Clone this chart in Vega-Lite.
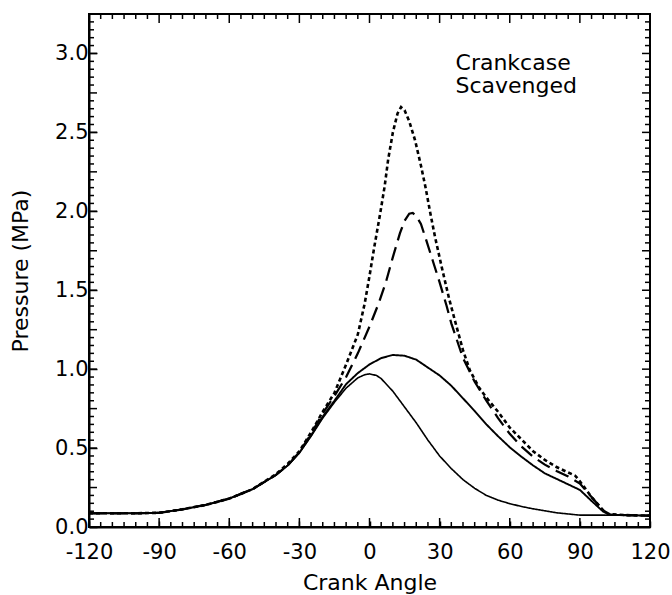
{
  "$schema": "https://vega.github.io/schema/vega-lite/v6.json",
  "width": 561,
  "height": 513,
  "autosize": {"type": "none"},
  "padding": {"left": 89, "top": 14, "right": 22, "bottom": 68},
  "background": "white",
  "config": {
    "view": {"stroke": "black", "strokeWidth": 2},
    "axis": {
      "labelFont": "DejaVu Sans", "titleFont": "DejaVu Sans",
      "labelFontSize": 21, "titleFontSize": 22, "titleFontWeight": "normal",
      "labelColor": "black", "titleColor": "black",
      "domainColor": "black", "domainWidth": 2, "tickColor": "black", "tickWidth": 1.5,
      "grid": false, "labelOverlap": false, "labelBound": false, "labelFlush": false
    },
    "tick": {"opacity": 1, "color": "black", "thickness": 1.5}
  },
  "datasets": {
    "xmaj": [{"v":-90},{"v":-60},{"v":-30},{"v":0},{"v":30},{"v":60},{"v":90}],
    "xmin": [{"v":-115},{"v":-110},{"v":-105},{"v":-100},{"v":-95},{"v":-85},{"v":-80},{"v":-75},{"v":-70},{"v":-65},{"v":-55},{"v":-50},{"v":-45},{"v":-40},{"v":-35},{"v":-25},{"v":-20},{"v":-15},{"v":-10},{"v":-5},{"v":5},{"v":10},{"v":15},{"v":20},{"v":25},{"v":35},{"v":40},{"v":45},{"v":50},{"v":55},{"v":65},{"v":70},{"v":75},{"v":80},{"v":85},{"v":95},{"v":100},{"v":105},{"v":110},{"v":115}],
    "ymaj": [{"v":0.25},{"v":0.5},{"v":0.75},{"v":1},{"v":1.25},{"v":1.5},{"v":1.75},{"v":2},{"v":2.25},{"v":2.5},{"v":2.75},{"v":3}],
    "ymin": [{"v":0.05},{"v":0.1},{"v":0.15},{"v":0.2},{"v":0.3},{"v":0.35},{"v":0.4},{"v":0.45},{"v":0.55},{"v":0.6},{"v":0.65},{"v":0.7},{"v":0.8},{"v":0.85},{"v":0.9},{"v":0.95},{"v":1.05},{"v":1.1},{"v":1.15},{"v":1.2},{"v":1.3},{"v":1.35},{"v":1.4},{"v":1.45},{"v":1.55},{"v":1.6},{"v":1.65},{"v":1.7},{"v":1.8},{"v":1.85},{"v":1.9},{"v":1.95},{"v":2.05},{"v":2.1},{"v":2.15},{"v":2.2},{"v":2.3},{"v":2.35},{"v":2.4},{"v":2.45},{"v":2.55},{"v":2.6},{"v":2.65},{"v":2.7},{"v":2.8},{"v":2.85},{"v":2.9},{"v":2.95},{"v":3.05},{"v":3.1},{"v":3.15},{"v":3.2}],
    "curves": [
    {"s":"A","a":-120,"p":0.087},{"s":"A","a":-110,"p":0.087},{"s":"A","a":-100,"p":0.087},{"s":"A","a":-90,"p":0.09},{"s":"A","a":-80,"p":0.112},{"s":"A","a":-70,"p":0.14},{"s":"A","a":-60,"p":0.18},{"s":"A","a":-50,"p":0.24},{"s":"A","a":-40,"p":0.33},{"s":"A","a":-35,"p":0.39},{"s":"A","a":-30,"p":0.47},{"s":"A","a":-25,"p":0.575},
    {"s":"A","a":-20,"p":0.69},{"s":"A","a":-15,"p":0.79},{"s":"A","a":-10,"p":0.88},{"s":"A","a":-5,"p":0.945},{"s":"A","a":-2,"p":0.965},{"s":"A","a":0,"p":0.97},{"s":"A","a":3,"p":0.96},{"s":"A","a":5,"p":0.94},{"s":"A","a":10,"p":0.86},{"s":"A","a":15,"p":0.76},{"s":"A","a":20,"p":0.66},{"s":"A","a":25,"p":0.55},{"s":"A","a":30,"p":0.45},{"s":"A","a":35,"p":0.37},{"s":"A","a":40,"p":0.3},{"s":"A","a":45,"p":0.245},{"s":"A","a":50,"p":0.2},{"s":"A","a":55,"p":0.17},{"s":"A","a":60,"p":0.148},{"s":"A","a":65,"p":0.13},{"s":"A","a":70,"p":0.115},{"s":"A","a":80,"p":0.09},{"s":"A","a":90,"p":0.075},{"s":"A","a":100,"p":0.075},{"s":"A","a":110,"p":0.074},{"s":"A","a":120,"p":0.072},

    {"s":"B","a":-120,"p":0.087},{"s":"B","a":-110,"p":0.087},{"s":"B","a":-100,"p":0.087},{"s":"B","a":-90,"p":0.09},{"s":"B","a":-80,"p":0.112},{"s":"B","a":-70,"p":0.14},{"s":"B","a":-60,"p":0.18},{"s":"B","a":-50,"p":0.24},{"s":"B","a":-40,"p":0.33},{"s":"B","a":-35,"p":0.39},{"s":"B","a":-30,"p":0.47},{"s":"B","a":-25,"p":0.58},
    {"s":"B","a":-20,"p":0.7},{"s":"B","a":-15,"p":0.8},{"s":"B","a":-10,"p":0.905},{"s":"B","a":-5,"p":0.975},{"s":"B","a":0,"p":1.03},{"s":"B","a":5,"p":1.07},{"s":"B","a":10,"p":1.09},{"s":"B","a":15,"p":1.085},{"s":"B","a":20,"p":1.06},{"s":"B","a":25,"p":1.01},{"s":"B","a":30,"p":0.96},{"s":"B","a":35,"p":0.895},{"s":"B","a":40,"p":0.815},{"s":"B","a":45,"p":0.735},{"s":"B","a":50,"p":0.65},{"s":"B","a":55,"p":0.575},{"s":"B","a":60,"p":0.505},{"s":"B","a":65,"p":0.445},{"s":"B","a":70,"p":0.39},{"s":"B","a":75,"p":0.34},{"s":"B","a":80,"p":0.305},{"s":"B","a":85,"p":0.27},{"s":"B","a":90,"p":0.235},{"s":"B","a":95,"p":0.165},{"s":"B","a":100,"p":0.097},{"s":"B","a":103,"p":0.078},{"s":"B","a":110,"p":0.075},{"s":"B","a":120,"p":0.072},

    {"s":"C","a":-120,"p":0.087},{"s":"C","a":-110,"p":0.087},{"s":"C","a":-100,"p":0.087},{"s":"C","a":-90,"p":0.09},{"s":"C","a":-80,"p":0.112},{"s":"C","a":-70,"p":0.14},{"s":"C","a":-60,"p":0.18},{"s":"C","a":-50,"p":0.24},{"s":"C","a":-40,"p":0.33},{"s":"C","a":-35,"p":0.39},{"s":"C","a":-30,"p":0.475},{"s":"C","a":-25,"p":0.59},
    {"s":"C","a":-20,"p":0.72},{"s":"C","a":-15,"p":0.83},{"s":"C","a":-10,"p":0.95},{"s":"C","a":-5,"p":1.1},{"s":"C","a":0,"p":1.27},{"s":"C","a":4,"p":1.42},{"s":"C","a":7,"p":1.55},{"s":"C","a":10,"p":1.71},{"s":"C","a":13,"p":1.86},{"s":"C","a":15,"p":1.94},{"s":"C","a":17,"p":1.985},{"s":"C","a":18.5,"p":1.99},{"s":"C","a":20,"p":1.97},{"s":"C","a":22,"p":1.92},{"s":"C","a":24,"p":1.83},{"s":"C","a":27,"p":1.69},{"s":"C","a":30,"p":1.55},{"s":"C","a":33,"p":1.4},{"s":"C","a":35,"p":1.29},{"s":"C","a":40,"p":1.07},{"s":"C","a":45,"p":0.92},{"s":"C","a":50,"p":0.8},{"s":"C","a":55,"p":0.69},{"s":"C","a":60,"p":0.59},{"s":"C","a":65,"p":0.51},{"s":"C","a":70,"p":0.445},{"s":"C","a":75,"p":0.395},{"s":"C","a":80,"p":0.355},{"s":"C","a":85,"p":0.32},{"s":"C","a":90,"p":0.275},{"s":"C","a":95,"p":0.19},{"s":"C","a":100,"p":0.105},{"s":"C","a":103,"p":0.078},{"s":"C","a":110,"p":0.075},{"s":"C","a":120,"p":0.072},

    {"s":"D","a":-120,"p":0.087},{"s":"D","a":-110,"p":0.087},{"s":"D","a":-100,"p":0.087},{"s":"D","a":-90,"p":0.09},{"s":"D","a":-80,"p":0.112},{"s":"D","a":-70,"p":0.14},{"s":"D","a":-60,"p":0.18},{"s":"D","a":-50,"p":0.24},{"s":"D","a":-40,"p":0.335},{"s":"D","a":-35,"p":0.4},{"s":"D","a":-30,"p":0.48},{"s":"D","a":-25,"p":0.6},
    {"s":"D","a":-20,"p":0.73},{"s":"D","a":-15,"p":0.85},{"s":"D","a":-10,"p":1.03},{"s":"D","a":-5,"p":1.22},{"s":"D","a":-2,"p":1.42},{"s":"D","a":0,"p":1.59},{"s":"D","a":2,"p":1.77},{"s":"D","a":4.5,"p":1.98},{"s":"D","a":6.5,"p":2.16},{"s":"D","a":8,"p":2.33},{"s":"D","a":10,"p":2.5},{"s":"D","a":12,"p":2.62},{"s":"D","a":13.5,"p":2.66},{"s":"D","a":15,"p":2.64},{"s":"D","a":17,"p":2.57},{"s":"D","a":19.5,"p":2.45},{"s":"D","a":22,"p":2.29},{"s":"D","a":24,"p":2.15},{"s":"D","a":26,"p":1.99},{"s":"D","a":28,"p":1.84},{"s":"D","a":31,"p":1.64},{"s":"D","a":34,"p":1.45},{"s":"D","a":36.5,"p":1.31},{"s":"D","a":40,"p":1.12},{"s":"D","a":43,"p":0.99},{"s":"D","a":47,"p":0.88},{"s":"D","a":50,"p":0.82},{"s":"D","a":55,"p":0.73},{"s":"D","a":60,"p":0.63},{"s":"D","a":65,"p":0.555},{"s":"D","a":70,"p":0.48},{"s":"D","a":75,"p":0.425},{"s":"D","a":80,"p":0.38},{"s":"D","a":85,"p":0.345},{"s":"D","a":88,"p":0.325},{"s":"D","a":90,"p":0.29},{"s":"D","a":95,"p":0.19},{"s":"D","a":100,"p":0.105},{"s":"D","a":102,"p":0.082},{"s":"D","a":110,"p":0.075},{"s":"D","a":120,"p":0.072}
    ]
  },
  "layer": [
    {
      "data": {"name": "curves"},
      "mark": {"type": "line", "color": "black", "strokeCap": "butt"},
      "encoding": {
        "x": {"field": "a", "type": "quantitative",
          "scale": {"domain": [-120, 120], "nice": false, "zero": false},
          "axis": {"orient": "bottom", "title": "Crank Angle", "titlePadding": 10,
            "values": [-120,-90,-60,-30,0,30,60,90,120],
            "labelExpr": "toString(datum.value)",
            "labelPadding": 20,
            "tickSize": -6}},
        "y": {"field": "p", "type": "quantitative",
          "scale": {"domain": [0, 3.25], "nice": false, "zero": false},
          "axis": {"orient": "left", "title": "Pressure (MPa)", "titlePadding": 22,
            "values": [0,0.5,1,1.5,2,2.5,3],
            "labelExpr": "format(datum.value, '.1f')",
            "labelPadding": 9,
            "tickSize": -8}},
        "strokeDash": {"field": "s", "type": "nominal", "legend": null,
          "scale": {"domain": ["A","B","C","D"], "range": [[1,0],[1,0],[14,7],[4,3]]}},
        "strokeWidth": {"field": "s", "type": "nominal", "legend": null,
          "scale": {"domain": ["A","B","C","D"], "range": [1.6, 2.6, 2.5, 2.6]}}
      }
    },
    {
      "data": {"name": "xmaj"},
      "mark": {"type": "tick", "orient": "vertical", "size": 9, "yOffset": -4.5},
      "encoding": {"x": {"field": "v", "type": "quantitative"}, "y": {"datum": 0, "type": "quantitative"}}
    },
    {
      "data": {"name": "xmin"},
      "mark": {"type": "tick", "orient": "vertical", "size": 5, "yOffset": -2.5},
      "encoding": {"x": {"field": "v", "type": "quantitative"}, "y": {"datum": 0, "type": "quantitative"}}
    },
    {
      "data": {"name": "xmaj"},
      "mark": {"type": "tick", "orient": "vertical", "size": 9, "yOffset": 4.5},
      "encoding": {"x": {"field": "v", "type": "quantitative"}, "y": {"datum": 3.25, "type": "quantitative"}}
    },
    {
      "data": {"name": "xmin"},
      "mark": {"type": "tick", "orient": "vertical", "size": 5, "yOffset": 2.5},
      "encoding": {"x": {"field": "v", "type": "quantitative"}, "y": {"datum": 3.25, "type": "quantitative"}}
    },
    {
      "data": {"name": "ymaj"},
      "mark": {"type": "tick", "orient": "horizontal", "size": 8, "xOffset": 4},
      "encoding": {"y": {"field": "v", "type": "quantitative"}, "x": {"datum": -120, "type": "quantitative"}}
    },
    {
      "data": {"name": "ymin"},
      "mark": {"type": "tick", "orient": "horizontal", "size": 5, "xOffset": 2.5},
      "encoding": {"y": {"field": "v", "type": "quantitative"}, "x": {"datum": -120, "type": "quantitative"}}
    },
    {
      "data": {"name": "ymaj"},
      "mark": {"type": "tick", "orient": "horizontal", "size": 8, "xOffset": -4},
      "encoding": {"y": {"field": "v", "type": "quantitative"}, "x": {"datum": 120, "type": "quantitative"}}
    },
    {
      "data": {"name": "ymin"},
      "mark": {"type": "tick", "orient": "horizontal", "size": 5, "xOffset": -2.5},
      "encoding": {"y": {"field": "v", "type": "quantitative"}, "x": {"datum": 120, "type": "quantitative"}}
    },
    {
      "data": {"values": [{}]},
      "mark": {"type": "text", "text": "Crankcase\nScavenged", "lineBreak": "\n", "align": "left", "baseline": "top",
        "font": "DejaVu Sans", "fontSize": 22, "lineHeight": 23, "color": "black"},
      "encoding": {
        "x": {"datum": 36.8, "type": "quantitative"},
        "y": {"datum": 3.0, "type": "quantitative"}
      }
    }
  ]
}
